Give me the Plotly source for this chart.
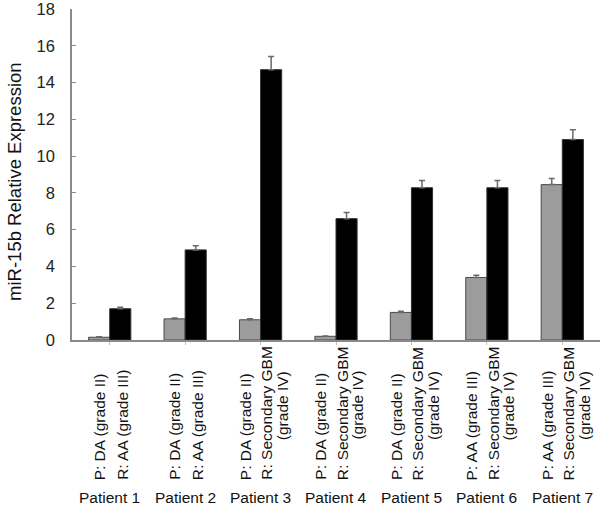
import plotly.graph_objects as go

patients = ["Patient 1", "Patient 2", "Patient 3", "Patient 4", "Patient 5", "Patient 6", "Patient 7"]
primary_labels = ["P: DA (grade II)", "P: DA (grade II)", "P: DA (grade II)", "P: DA (grade II)",
                  "P: DA (grade II)", "P: AA (grade III)", "P: AA (grade III)"]
recurrent_labels = ["R: AA (grade III)", "R: AA (grade III)", "R: Secondary GBM", "R: Secondary GBM",
                    "R: Secondary GBM", "R: Secondary GBM", "R: Secondary GBM"]
recurrent_extra = ["", "", "(grade IV)", "(grade IV)", "(grade IV)", "(grade IV)", "(grade IV)"]

primary_values = [0.15, 1.15, 1.1, 0.2, 1.5, 3.4, 8.45]
primary_err = [0.02, 0.04, 0.05, 0.02, 0.06, 0.12, 0.33]
recurrent_values = [1.7, 4.9, 14.7, 6.6, 8.28, 8.28, 10.9]
recurrent_err = [0.08, 0.23, 0.72, 0.34, 0.4, 0.4, 0.54]

FONT = "Liberation Sans, Arial, sans-serif"
W, H = 600, 510
L, R, T, B = 72, 0, 7, 170
plot_h = H - T - B
y0_px = H - B

def py(pixel_y):
    return (y0_px - pixel_y) / plot_h

def px(pixel_x):
    return (pixel_x - L) / (W - L - R)

fig = go.Figure()
fig.add_trace(go.Bar(
    x=list(range(len(patients))), y=primary_values, name="Primary",
    marker=dict(color="#9c9c9c", line=dict(color="#4a4a4a", width=1)),
    error_y=dict(type="data", array=primary_err, arrayminus=[0] * len(primary_err),
                 symmetric=False, color="#6a6a6a", thickness=1.5, width=3),
))
fig.add_trace(go.Bar(
    x=list(range(len(patients))), y=recurrent_values, name="Recurrent",
    marker=dict(color="#000000", line=dict(color="#333333", width=1)),
    error_y=dict(type="data", array=recurrent_err, arrayminus=[0] * len(recurrent_err),
                 symmetric=False, color="#6a6a6a", thickness=1.5, width=3),
))

LBL = dict(family=FONT, size=15.5, color="#111")
annotations = []
for i, p in enumerate(patients):
    three = recurrent_extra[i] != ""
    offs = (-15, 6, 22) if three else (-10, 12)
    annotations.append(dict(x=i, xref="x", xshift=offs[0], y=py(483), yref="paper",
                            text=primary_labels[i], textangle=-90, showarrow=False,
                            xanchor="center", yanchor="bottom", font=LBL))
    annotations.append(dict(x=i, xref="x", xshift=offs[1], y=py(483), yref="paper",
                            text=recurrent_labels[i], textangle=-90, showarrow=False,
                            xanchor="center", yanchor="bottom", font=LBL))
    if three:
        annotations.append(dict(x=i, xref="x", xshift=offs[2], y=py(406), yref="paper",
                                text=recurrent_extra[i], textangle=-90, showarrow=False,
                                xanchor="center", yanchor="middle", font=LBL))
    annotations.append(dict(x=i, xref="x", y=py(498), yref="paper", text=p, showarrow=False,
                            xanchor="center", yanchor="middle", font=LBL))

annotations.append(dict(x=px(15), xref="paper", y=py(181), yref="paper",
                        text="miR-15b Relative Expression", textangle=-90, showarrow=False,
                        xanchor="center", yanchor="middle",
                        font=dict(family=FONT, size=18.5, color="#111")))

fig.update_layout(
    width=W, height=H,
    margin=dict(l=L, r=R, t=T, b=B, pad=0),
    paper_bgcolor="white", plot_bgcolor="white",
    barmode="group", bargap=0.44, bargroupgap=0,
    showlegend=False,
    annotations=annotations,
    font=dict(family=FONT, color="#111"),
)
fig.update_xaxes(
    range=[-0.5, len(patients) - 0.5], showticklabels=False, showgrid=False, zeroline=False,
    showline=True, linecolor="#8a8a8a", linewidth=1.5,
    ticks="outside", ticklen=3, tickcolor="#c0c0c0", tickvals=list(range(len(patients))),
)
fig.update_yaxes(
    range=[0, 18], tickvals=list(range(0, 19, 2)), showgrid=False, zeroline=False,
    showline=True, linecolor="#8a8a8a", linewidth=1.5,
    ticks="inside", ticklen=4, tickcolor="#8a8a8a",
    tickfont=dict(family=FONT, size=16.5, color="#222"), ticklabelstandoff=12,
    ticklabeloverflow="allow",
)

fig.write_html("out.html", config={"displayModeBar": False},
               post_script="document.body.style.margin='0';document.body.style.overflow='hidden';")
